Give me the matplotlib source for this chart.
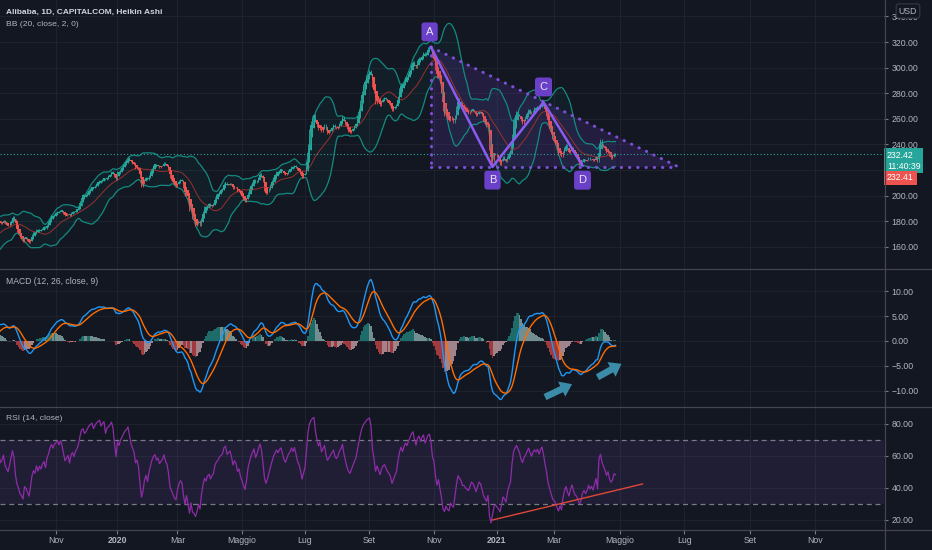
import numpy as np
import pandas as pd
import matplotlib
matplotlib.use("Agg")
import matplotlib.pyplot as plt
from matplotlib.lines import Line2D
from matplotlib.ticker import FuncFormatter
from matplotlib import transforms

# daily closes (trading days)
close_2019_07 = [172, 170, 171]
close_2019_08 = [168, 164, 160, 161, 163, 166, 165, 162, 163, 160, 162, 164, 167, 168, 170, 171, 166, 165, 168, 170, 171, 172]
close_2019_09 = [174, 176, 180, 181, 182, 180, 178, 179, 181, 178, 177, 176, 178, 181, 184, 182, 176, 172, 170, 167]
close_2019_10 = [166, 164, 168, 167, 165, 163, 166, 170, 172, 171, 174, 172, 174, 173, 175, 176, 174, 178, 180, 183, 185, 184, 186]
close_2019_11 = [187, 188, 187, 189, 188, 186, 184, 185, 186, 184, 187, 188, 187, 189, 190, 192, 196, 200, 201, 200]
close_2019_12 = [201, 203, 205, 206, 207, 206, 208, 210, 211, 212, 211, 213, 214, 212, 215, 216, 217, 219, 218, 215, 212]
close_2020_01 = [219, 218, 221, 223, 225, 227, 228, 230, 228, 226, 225, 224, 221, 222, 220, 214, 207, 209, 213, 215, 212]
close_2020_02 = [216, 219, 222, 224, 225, 223, 224, 222, 223, 224, 226, 224, 223, 220, 214, 212, 210, 208, 207]
close_2020_03 = [210, 212, 213, 212, 206, 200, 203, 197, 188, 192, 182, 180, 176, 178, 181, 176, 183, 188, 192, 190, 193, 194]
close_2020_04 = [191, 193, 194, 199, 201, 202, 204, 205, 206, 210, 211, 208, 209, 210, 208, 205, 207, 206, 203, 204, 201]
close_2020_05 = [199, 197, 195, 198, 203, 206, 209, 211, 213, 210, 212, 215, 218, 216, 211, 204, 201, 203, 206, 209]
close_2020_06 = [212, 215, 217, 219, 218, 220, 221, 219, 217, 216, 218, 220, 221, 223, 222, 224, 222, 220, 219, 217, 214, 216]
close_2020_07 = [218, 226, 240, 252, 258, 262, 264, 258, 254, 251, 255, 250, 253, 256, 251, 248, 250, 252, 254, 256, 253, 252]
close_2020_08 = [254, 257, 259, 262, 258, 255, 252, 250, 249, 251, 253, 255, 257, 262, 268, 275, 282, 287, 290, 294, 296]
close_2020_09 = [298, 295, 285, 280, 272, 276, 273, 270, 274, 276, 277, 275, 273, 272, 270, 266, 268, 270, 272, 278, 284]
close_2020_10 = [288, 286, 290, 293, 292, 296, 299, 303, 305, 302, 300, 306, 308, 306, 310, 312, 309, 312, 316, 317, 314, 308]
close_2020_11 = [306, 298, 292, 295, 288, 280, 266, 262, 265, 260, 258, 262, 259, 257, 263, 270, 276, 274, 272, 268]
close_2020_12 = [268, 266, 265, 264, 266, 268, 267, 265, 262, 264, 266, 265, 262, 258, 256, 254, 256, 236, 224, 228, 232, 233]
close_2021_01 = [230, 228, 224, 227, 231, 229, 226, 231, 234, 236, 248, 259, 263, 266, 264, 262, 258, 256, 260]
close_2021_02 = [262, 265, 268, 266, 264, 267, 269, 268, 270, 268, 271, 273, 270, 266, 262, 256, 252, 248, 244]
close_2021_03 = [242, 240, 236, 232, 234, 230, 235, 238, 240, 236, 233, 236, 238, 234, 231, 230, 227, 224, 225, 228, 229, 227, 228]
close_2021_04 = [230, 228, 229, 227, 229, 231, 226, 241, 244, 240, 238, 236, 233, 235, 231, 229, 230, 233, 232.42]

market_holidays = ["2019-09-02", "2019-11-28", "2019-12-25", "2020-01-01", "2020-01-20",
                   "2020-02-17", "2020-04-10", "2020-05-25", "2020-07-03", "2020-09-07",
                   "2020-11-26", "2020-12-25", "2021-01-01", "2021-01-18", "2021-02-15",
                   "2021-04-02"]

tick_months = ["2019-11-01", "2020-01-01", "2020-03-01", "2020-05-01", "2020-07-01",
               "2020-09-01", "2020-11-01", "2021-01-01", "2021-03-01", "2021-05-01",
               "2021-07-01", "2021-09-01", "2021-11-01"]
tick_labels = ["Nov", "2020", "Mar", "Maggio", "Lug", "Set", "Nov", "2021", "Mar",
               "Maggio", "Lug", "Set", "Nov"]

# price scale labels (220 and 340 sit under the price / USD boxes)
price_ticks = [160, 180, 200, 220, 240, 260, 280, 300, 320, 340]
price_hidden = [220]

# ABCD pattern drawn on the chart
pattern_labels = ["A", "B", "C", "D"]
pattern_dates = ["2020-10-29", "2020-12-29", "2021-02-18", "2021-03-26"]
pattern_prices = [316, 222.5, 273, 223.5]
triangle_end = "2021-06-25"
triangle_base = 222.5

# annotations in the indicator panes
macd_arrows = [(("2021-02-19", -11.3), ("2021-03-17", -8.7)),
               (("2021-04-12", -7.3), ("2021-05-04", -4.6))]
rsi_trend = [("2020-12-29", 20.0), ("2021-05-24", 42.5)]

last_price = 232.42
bid_price = 232.41
countdown = "11:40:39"

BG = "#131722"
GRID = "#1e222d"
TXT = "#b2b5be"
UP = "#26a69a"
DOWN = "#ef5350"
PURPLE = "#7e4fd8"

plt.rcParams["font.family"] = ["Liberation Sans", "DejaVu Sans"]

closes = np.array(close_2019_07 + close_2019_08 + close_2019_09 + close_2019_10 + close_2019_11
                  + close_2019_12 + close_2020_01 + close_2020_02 + close_2020_03 + close_2020_04
                  + close_2020_05 + close_2020_06 + close_2020_07 + close_2020_08 + close_2020_09
                  + close_2020_10 + close_2020_11 + close_2020_12 + close_2021_01 + close_2021_02
                  + close_2021_03 + close_2021_04, dtype=float)
n = len(closes)

days = pd.bdate_range("2019-07-29", periods=n, freq="C", holidays=market_holidays)
future = pd.bdate_range(days[-1] + pd.Timedelta(days=1), "2021-12-31")
all_days = days.append(future)
x = np.arange(n)


def xof(d):
    return int(np.searchsorted(all_days.values, np.datetime64(d)))


# heikin ashi
o_raw = np.r_[closes[0], closes[:-1]]
h_raw = np.maximum(o_raw, closes)
l_raw = np.minimum(o_raw, closes)
ha_c = (o_raw + h_raw + l_raw + closes) / 4
ha_o = np.zeros(n)
ha_o[0] = (o_raw[0] + closes[0]) / 2
for i in range(1, n):
    ha_o[i] = (ha_o[i - 1] + ha_c[i - 1]) / 2
ha_h = np.maximum.reduce([h_raw, ha_o, ha_c])
ha_l = np.minimum.reduce([l_raw, ha_o, ha_c])

s = pd.Series(closes)
basis = s.rolling(20).mean()
dev = s.rolling(20).std(ddof=0) * 2
upper, lower = basis + dev, basis - dev

macd = s.ewm(span=12, adjust=False).mean() - s.ewm(span=26, adjust=False).mean()
signal = macd.ewm(span=9, adjust=False).mean()
hist = (macd - signal).values

delta = s.diff()
gain = delta.clip(lower=0).ewm(alpha=1 / 14, adjust=False).mean()
loss = (-delta.clip(upper=0)).ewm(alpha=1 / 14, adjust=False).mean()
rsi = 100 - 100 / (1 + gain / loss)

W, H = 932, 550
fig = plt.figure(figsize=(W / 100, H / 100), dpi=100, facecolor=BG)


def axes_px(top, bottom):
    return fig.add_axes([0, 1 - bottom / H, 884 / W, (bottom - top) / H])


ax_p = axes_px(0, 268.5)
ax_m = axes_px(269.5, 406.5)
ax_r = axes_px(406.5, 529.5)

i_nov = xof(tick_months[0])
x_left = i_nov - 56 / 1.5
x_right = x_left + 884 / 1.5
tick_x = [xof(m) for m in tick_months]

fmt = FuncFormatter(lambda v, p: f"{v:.2f}".replace("-", "\u2212"))
for ax in (ax_p, ax_m, ax_r):
    ax.set_facecolor(BG)
    for sp in ax.spines.values():
        sp.set_visible(False)
    ax.set_xlim(x_left, x_right)
    ax.set_xticks(tick_x)
    ax.grid(True, color=GRID, lw=0.8)
    ax.set_axisbelow(True)
    ax.yaxis.tick_right()
    ax.yaxis.set_major_formatter(fmt)
    ax.tick_params(axis="y", colors="#787b86", labelcolor=TXT, labelsize=6.3,
                   length=3, width=0.8, pad=2.5)
    ax.tick_params(axis="x", length=0, labelbottom=False)

# price pane
ax_p.set_ylim(143.2, 352.8)
ax_p.set_yticks(price_ticks)
ax_p.yaxis.set_major_formatter(FuncFormatter(
    lambda v, p: "" if round(v) in price_hidden else f"{v:.2f}"))
ax_p.fill_between(x, lower, upper, color="#1a8a84", alpha=0.07, lw=0)
ax_p.plot(x, upper, color="#138a80", lw=0.9)
ax_p.plot(x, lower, color="#138a80", lw=0.9)
ax_p.plot(x, basis, color="#9b2f2f", lw=0.7)
col = np.where(ha_c >= ha_o, UP, DOWN)
ax_p.vlines(x, ha_l, ha_h, colors=col, lw=0.6)
body = np.maximum(np.abs(ha_c - ha_o), 0.4)
ax_p.bar(x, body, bottom=np.minimum(ha_o, ha_c), width=0.8, color=col, lw=0)
ax_p.axhline(last_price, color=UP, lw=0.8, ls=(0, (1, 2)))

# ABCD pattern
px_ = [xof(d) for d in pattern_dates]
xe = xof(triangle_end)
ax_p.fill([px_[0], xe, px_[0]], [pattern_prices[0], triangle_base, triangle_base],
          color="#673ab7", alpha=0.2, lw=0)
dots = dict(color=PURPLE, lw=2.2, ls=(0, (0.1, 2.6)), dash_capstyle="round")
ax_p.plot([px_[0], xe], [pattern_prices[0], triangle_base], **dots)
ax_p.plot([px_[0], xe], [triangle_base, triangle_base], **dots)
ax_p.plot([px_[0], px_[0]], [pattern_prices[0], triangle_base], **dots)
ax_p.plot(px_, pattern_prices, color="#8a5cf0", lw=1.8)
label_off = [(-1, 11), (0, -9.5), (0, 11), (0, -10.5)]
for lab, xx, yy, off in zip(pattern_labels, px_, pattern_prices, label_off):
    ax_p.annotate(lab, (xx, yy), xytext=off, textcoords="offset points", ha="center",
                  va="center", color="#e6e6f0", fontsize=8,
                  bbox=dict(boxstyle="round,pad=0.4,rounding_size=0.25", fc="#6a40c8", ec="none"))

ax_p.text(6 / 884, 1 - 12 / 268.5, "Alibaba, 1D, CAPITALCOM, Heikin Ashi", transform=ax_p.transAxes,
          color="#d1d4dc", fontsize=6.05, fontweight="bold", va="center")
ax_p.text(6 / 884, 1 - 25 / 268.5, "BB (20, close, 2, 0)", transform=ax_p.transAxes,
          color=TXT, fontsize=6.1, va="center")

# price labels on the right scale
bt = transforms.blended_transform_factory(ax_p.transAxes, ax_p.transData)
ax_p.text(1.0 + 3 / 884, last_price + 2.8, f"{last_price:.2f}\n{countdown}", transform=bt,
          color="white", fontsize=6.3, va="top", ha="left", linespacing=1.3,
          bbox=dict(boxstyle="square,pad=0.3", fc=UP, ec="none"), clip_on=False)
ax_p.text(1.0 + 3 / 884, bid_price - 18.3, f"{bid_price:.2f}", transform=bt,
          color="white", fontsize=6.3, va="center", ha="left",
          bbox=dict(boxstyle="square,pad=0.3", fc=DOWN, ec="none"), clip_on=False)

# MACD pane
ax_m.set_ylim(-13.2, 14.4)
ax_m.set_yticks([-10, -5, 0, 5, 10])
prev = np.r_[hist[0], hist[:-1]]
hcol = np.where(hist >= 0, np.where(hist > prev, "#26a69a", "#b2dfdb"),
                np.where(hist > prev, "#ffcdd2", "#ff5252"))
ax_m.bar(x, hist, width=0.8, color=hcol, alpha=0.6, lw=0)
ax_m.plot(x, macd, color="#2196f3", lw=1.0)
ax_m.plot(x, signal, color="#ff6d00", lw=1.0)
for (d0, v0), (d1, v1) in macd_arrows:
    ax_m.annotate("", xy=(xof(d1), v1), xytext=(xof(d0), v0),
                  arrowprops=dict(arrowstyle="simple,head_length=0.55,head_width=0.8,tail_width=0.32",
                                  color="#3b8ca8", mutation_scale=15, lw=0, shrinkA=0, shrinkB=0))
ax_m.text(6 / 884, 1 - 12.5 / 137, "MACD (12, 26, close, 9)", transform=ax_m.transAxes,
          color=TXT, fontsize=6.2, va="center")

# RSI pane
ax_r.set_ylim(14.06, 90.9)
ax_r.set_yticks([20, 40, 60, 80])
ax_r.axhspan(30, 70, color="#7e57c2", alpha=0.12, lw=0)
ax_r.axhline(70, color="#787b86", lw=0.9, ls=(0, (4, 3)))
ax_r.axhline(30, color="#787b86", lw=0.9, ls=(0, (4, 3)))
ax_r.plot(x, rsi, color="#8e2ca8", lw=0.9)
ax_r.plot([xof(rsi_trend[0][0]), xof(rsi_trend[1][0])], [rsi_trend[0][1], rsi_trend[1][1]],
          color="#e0473a", lw=1.0)
ax_r.text(6 / 884, 1 - 12.5 / 123, "RSI (14, close)", transform=ax_r.transAxes,
          color=TXT, fontsize=6.1, va="center")
ax_r.tick_params(axis="x", length=3, width=0.8, colors="#787b86", labelcolor=TXT,
                 labelsize=6.3, labelbottom=True, pad=2)
ax_r.set_xticklabels(tick_labels)
for t in ax_r.get_xticklabels():
    if t.get_text().startswith("20"):
        t.set_fontweight("bold")

# pane separators and right scale border
for yy in (269, 406.5, 529.5):
    fig.add_artist(Line2D([0, 1], [1 - yy / H] * 2, color="#434651", lw=0.9))
fig.add_artist(Line2D([884.5 / W] * 2, [0, 1], color="#434651", lw=0.9))

fig.text(908 / W, 1 - 11 / H, "USD", color=TXT, fontsize=6.3, ha="center", va="center",
         bbox=dict(boxstyle="round,pad=0.3,rounding_size=0.3", fc=BG, ec="#363a45", lw=0.8),
         zorder=10)

fig.savefig("out.png", dpi=100, facecolor=BG)
